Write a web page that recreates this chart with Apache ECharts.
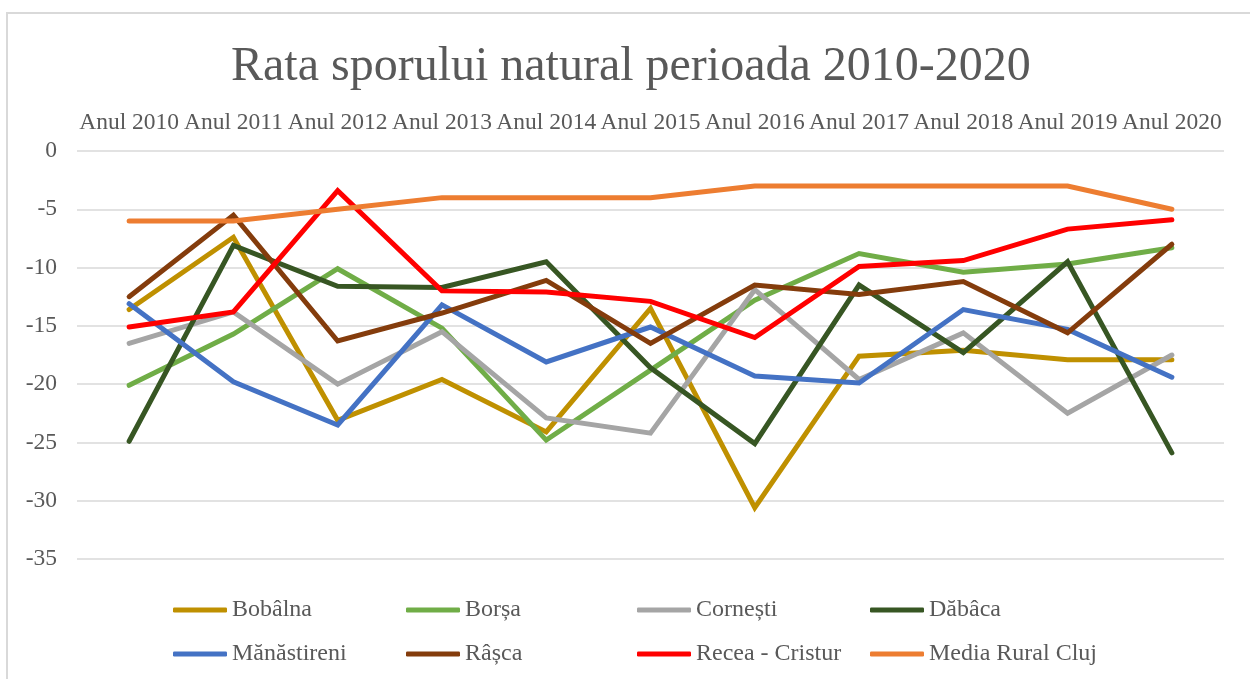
<!DOCTYPE html>
<html>
<head>
<meta charset="utf-8">
<script src="https://cdn.jsdelivr.net/npm/echarts@6/dist/echarts.min.js"></script>
<style>
  html, body { margin: 0; padding: 0; background: #fff; }
  #chart { width: 1250px; height: 679px; }
</style>
</head>
<body>
<div id="chart"></div>
<script>
var years = ['Anul 2010', 'Anul 2011', 'Anul 2012', 'Anul 2013', 'Anul 2014', 'Anul 2015',
  'Anul 2016', 'Anul 2017', 'Anul 2018', 'Anul 2019', 'Anul 2020'];

var bobalna     = [-13.6, -7.4, -23.1, -19.6, -24.1, -13.5, -30.6, -17.6, -17.1, -17.9, -17.9];
var borsa       = [-20.1, -15.7, -10.1, -15.2, -24.8, -18.8, -12.8, -8.8, -10.4, -9.7, -8.3];
var cornesti    = [-16.5, -13.8, -20.0, -15.5, -22.9, -24.2, -11.9, -19.6, -15.6, -22.5, -17.5];
var dabaca      = [-24.9, -8.1, -11.6, -11.7, -9.5, -18.6, -25.1, -11.5, -17.3, -9.5, -25.9];
var manastireni = [-13.1, -19.8, -23.5, -13.2, -18.1, -15.1, -19.3, -19.9, -13.6, -15.3, -19.4];
var rasca       = [-12.5, -5.5, -16.3, -13.9, -11.1, -16.5, -11.5, -12.3, -11.2, -15.6, -8.0];
var recea       = [-15.1, -13.8, -3.4, -12.0, -12.1, -12.9, -16.0, -9.9, -9.4, -6.7, -5.9];
var mediaRural  = [-6, -6, -5, -4, -4, -4, -3, -3, -3, -3, -5];

var seriesDefs = [
  { name: 'Bobâlna', data: bobalna, color: '#BF9000' },
  { name: 'Borșa', data: borsa, color: '#70AD47' },
  { name: 'Cornești', data: cornesti, color: '#A5A5A5' },
  { name: 'Dăbâca', data: dabaca, color: '#375623' },
  { name: 'Mănăstireni', data: manastireni, color: '#4472C4' },
  { name: 'Râșca', data: rasca, color: '#843C0C' },
  { name: 'Recea - Cristur', data: recea, color: '#FF0000' },
  { name: 'Media Rural Cluj', data: mediaRural, color: '#ED7D31' }
];

var font = 'Liberation Serif, Times New Roman, serif';
var textColor = '#595959';

// legend columns, Excel puts them at uneven positions
var legendCols = [
  { left: 173, names: ['Bobâlna', 'Mănăstireni'] },
  { left: 406, names: ['Borșa', 'Râșca'] },
  { left: 637, names: ['Cornești', 'Recea - Cristur'] },
  { left: 870, names: ['Dăbâca', 'Media Rural Cluj'] }
];

var myChart = echarts.init(document.getElementById('chart'));

var option = {
  backgroundColor: '#fff',
  animation: false,
  title: {
    text: 'Rata sporului natural perioada 2010-2020',
    left: 231,
    top: 43,
    padding: 0,
    textStyle: {
      fontFamily: font,
      fontSize: 48,
      fontWeight: 'normal',
      color: textColor
    }
  },
  graphic: [{
    type: 'rect',
    shape: { x: 7, y: 13, width: 1270, height: 700 },
    style: { fill: 'none', stroke: '#d9d9d9', lineWidth: 2 },
    silent: true
  }],
  legend: legendCols.map(function(col) {
    return {
      orient: 'vertical',
      left: col.left,
      top: 598,
      padding: 0,
      itemGap: 20,
      itemWidth: 54,
      itemHeight: 5,
      icon: 'roundRect',
      data: col.names,
      textStyle: {
        fontFamily: font,
        fontSize: 24,
        lineHeight: 24,
        color: textColor,
        padding: [0, 0, 0, 0]
      }
    };
  }),
  grid: {
    left: 77,
    right: 26,
    top: 151,
    bottom: 120,
    containLabel: false
  },
  xAxis: {
    type: 'category',
    position: 'top',
    boundaryGap: true,
    data: years,
    axisLine: { show: false },
    axisTick: { show: false },
    axisLabel: {
      interval: 0,
      margin: 16,
      fontFamily: font,
      fontSize: 23.5,
      color: textColor
    }
  },
  yAxis: {
    type: 'value',
    min: -35,
    max: 0,
    interval: 5,
    axisLine: { show: false },
    axisTick: { show: false },
    axisLabel: {
      margin: 20,
      fontFamily: font,
      fontSize: 23.5,
      color: textColor
    },
    splitLine: {
      lineStyle: { color: '#d9d9d9', width: 1.5 }
    }
  },
  series: seriesDefs.map(function(s) {
    return {
      name: s.name,
      type: 'line',
      data: s.data,
      symbol: 'none',
      color: s.color,
      lineStyle: { width: 5, color: s.color, cap: 'round', join: 'miter' }
    };
  })
};

myChart.setOption(option);
</script>
</body>
</html>
